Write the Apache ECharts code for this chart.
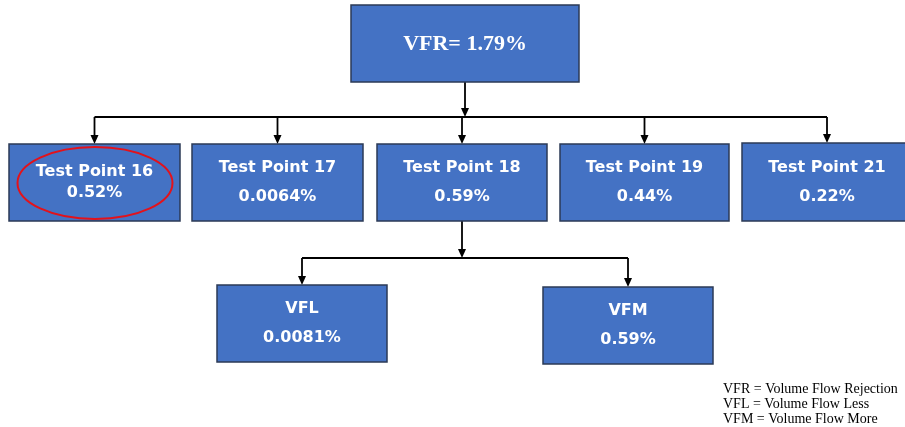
<!DOCTYPE html>
<html>
<head>
<meta charset="utf-8">
<title>VFR breakdown</title>
<script src="https://cdn.jsdelivr.net/npm/echarts@6/dist/echarts.min.js"></script>
<style>
  html, body { margin: 0; padding: 0; background: #fff; }
  #main { width: 905px; height: 427px; }
</style>
</head>
<body>
<div id="main"></div>
<script>
// node data
var nodeNames = ['VFR', 'Test Point 16', 'Test Point 17', 'Test Point 18', 'Test Point 19', 'Test Point 21', 'VFL', 'VFM'];
var nodeValues = ['1.79%', '0.52%', '0.0064%', '0.59%', '0.44%', '0.22%', '0.0081%', '0.59%'];
var nodeParents = [-1, 0, 0, 0, 0, 0, 3, 3];
var highlighted = ['Test Point 16'];
var legendLines = ['VFR = Volume Flow Rejection', 'VFL = Volume Flow Less', 'VFM = Volume Flow More'];

// layout of the boxes in axis units [x0, y0, x1, y1]
var boxLayout = [
  [351, 5, 579, 82],
  [9, 144, 180, 221],
  [192, 144, 363, 221],
  [377, 144, 547, 221],
  [560, 144, 729, 221],
  [742, 143, 912, 221],
  [217, 285, 387, 362],
  [543, 287, 713, 364]
];
var busY = { 0: 117, 3: 258 };

var chart = echarts.init(document.getElementById('main'));

function cx(i) { return (boxLayout[i][0] + boxLayout[i][2]) / 2; }

// connector segments: [x1, y1, x2, y2, arrow]
var segments = [];
Object.keys(busY).forEach(function (p) {
  p = +p;
  var kids = [];
  nodeParents.forEach(function (par, i) { if (par === p) kids.push(i); });
  var by = busY[p];
  var px = cx(p);
  segments.push([px, boxLayout[p][3], px, by, 1]);
  var xs = kids.map(cx);
  segments.push([Math.min.apply(null, xs), by, Math.max.apply(null, xs), by, 0]);
  kids.forEach(function (k) {
    segments.push([cx(k), by, cx(k), boxLayout[k][1], 1]);
  });
});

function arrowHead(api, x, y) {
  var tip = api.coord([x, y]);
  return {
    type: 'polygon',
    shape: { points: [[tip[0], tip[1]], [tip[0] - 4, tip[1] - 9], [tip[0] + 4, tip[1] - 9]] },
    style: { fill: '#000' }
  };
}

var option = {
  animation: false,
  grid: { left: 0, right: 0, top: 0, bottom: 0 },
  xAxis: { type: 'value', min: 0, max: 905, show: false },
  yAxis: { type: 'value', min: 0, max: 427, inverse: true, show: false },
  series: [
    {
      type: 'custom',
      name: 'connectors',
      data: segments.map(function (s, i) { return [i]; }),
      renderItem: function (params, api) {
        var s = segments[params.dataIndex];
        var a = api.coord([s[0], s[1]]);
        var endY = s[4] ? s[3] - 6 : s[3];
        var b2 = api.coord([s[2], endY]);
        var children = [{
          type: 'line',
          shape: { x1: a[0], y1: a[1], x2: b2[0], y2: b2[1] },
          style: { stroke: '#000', lineWidth: 1.8 }
        }];
        if (s[4]) children.push(arrowHead(api, s[2], s[3]));
        return { type: 'group', children: children };
      }
    },
    {
      type: 'custom',
      name: 'boxes',
      data: nodeNames.map(function (n, i) { return [i]; }),
      renderItem: function (params, api) {
        var i = params.dataIndex;
        var L = boxLayout[i];
        var p0 = api.coord([L[0], L[1]]);
        var p1 = api.coord([L[2], L[3]]);
        var mx = (p0[0] + p1[0]) / 2, my = (p0[1] + p1[1]) / 2;
        var children = [{
          type: 'rect',
          shape: { x: p0[0], y: p0[1], width: p1[0] - p0[0], height: p1[1] - p0[1] },
          style: { fill: '#4472C4', stroke: '#2B3A55', lineWidth: 1.5 }
        }];
        if (i === 0) {
          children.push({
            type: 'text',
            style: {
              x: mx, y: my + 1, text: nodeNames[i] + '= ' + nodeValues[i],
              fill: '#fff', font: 'bold 22px "Liberation Serif", serif',
              align: 'center', verticalAlign: 'middle'
            }
          });
        } else {
          var tight = highlighted.indexOf(nodeNames[i]) >= 0;
          var gap = tight ? 10.5 : 14.5;
          children.push({
            type: 'text',
            style: {
              x: mx, y: my - gap, text: nodeNames[i],
              fill: '#fff', font: 'bold 16px "DejaVu Sans", sans-serif',
              align: 'center', verticalAlign: 'middle'
            }
          });
          children.push({
            type: 'text',
            style: {
              x: mx, y: my + gap, text: nodeValues[i],
              fill: '#fff', font: 'bold 16px "DejaVu Sans", sans-serif',
              align: 'center', verticalAlign: 'middle'
            }
          });
        }
        if (highlighted.indexOf(nodeNames[i]) >= 0) {
          var c = api.coord([(L[0] + L[2]) / 2 + 0.5, (L[1] + L[3]) / 2 + 0.5]);
          children.push({
            type: 'ellipse',
            shape: { cx: c[0], cy: c[1], rx: 77.5, ry: 36 },
            style: { fill: 'none', stroke: '#E3121B', lineWidth: 2 }
          });
        }
        return { type: 'group', children: children };
      }
    }
  ],
  graphic: [{
    type: 'text',
    left: 723,
    top: 382,
    style: {
      text: legendLines.join('\n'),
      fill: '#000',
      font: '14px "Liberation Serif", serif',
      lineHeight: 15
    }
  }]
};

chart.setOption(option);
</script>
</body>
</html>
